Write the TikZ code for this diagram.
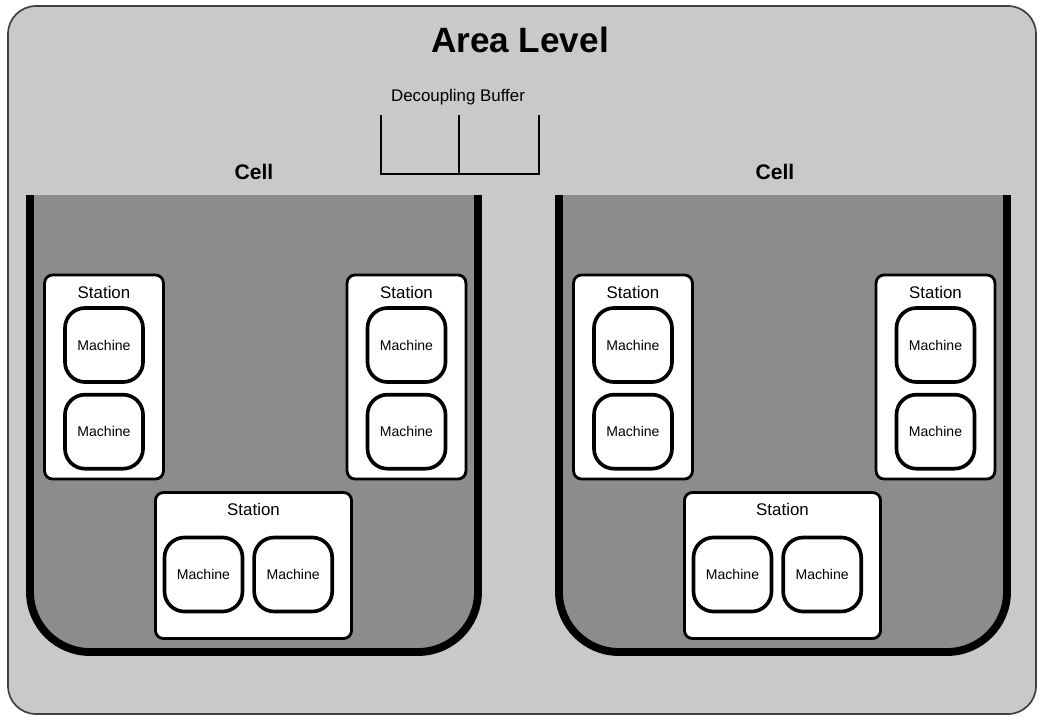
\documentclass[tikz,border=0pt]{standalone}
\usepackage{fontspec}
\setmainfont{Liberation Sans}
\usetikzlibrary{positioning}
\definecolor{areagray}{gray}{0.79}
\definecolor{cellgray}{gray}{0.55}

\begin{document}
\begin{tikzpicture}[x=0.025cm, y=-0.025cm, node distance=0.2cm,
    station/.style={draw, line width=2pt, fill=white, rounded corners=0.2cm},
    machine/.style={draw, line width=2.6pt, fill=white, rounded corners=0.5cm, minimum width=1.95cm, minimum height=1.85cm, font=\fontsize{10}{12}\selectfont},
    stlbl/.style={inner sep=0pt, font=\fontsize{12}{14}\selectfont},
    celllbl/.style={font=\fontsize{15}{18}\selectfont\bfseries}]
    \useasboundingbox (0,0) rectangle (1042,719);
    % area frame
    \draw[line width=1.2pt, draw=black!75, fill=areagray, rounded corners=0.7cm] (8,6) rectangle (1036,714);
    \node[font=\fontsize{25}{30}\selectfont\bfseries] (area) at (520,40) {Area Level};

    % decoupling buffer
    \node[font=\fontsize{12}{14}\selectfont] (buflbl) at (458,97) {Decoupling Buffer};
    \draw[line width=1.4pt] (381,115) -- (381,174) -- (539,174) -- (539,115);
    \draw[line width=1.4pt] (459,115) -- (459,174);

    % two cells, same layout
    \foreach \c/\dx/\lx in {L/0/254, R/529/246} {
    \begin{scope}[shift={(\dx,0)}]
        \fill[cellgray] (30,195) [rounded corners=1.5cm] -- (30,652) -- (478,652) [sharp corners] -- (478,195) -- cycle;
        \draw[line width=5.6pt] (30,195) [rounded corners=1.5cm] -- (30,652) -- (478,652) -- (478,195);
        \node[celllbl] (\c-cell) at (\lx,172) {Cell};

        % left station
        \node[station, minimum width=2.97cm, minimum height=5.1cm] (\c-st1) at (104,377) {};
        \node[stlbl, below=0.3cm of \c-st1.north] (\c-t1) {Station};
        \node[machine] (\c-m11) at (104,345) {Machine};
        \node[machine, below=0.225cm of \c-m11] (\c-m12) {Machine};

        % right station
        \node[station, minimum width=2.97cm, minimum height=5.1cm] (\c-st2) at (406.5,377) {};
        \node[stlbl, below=0.3cm of \c-st2.north] (\c-t2) {Station};
        \node[machine] (\c-m21) at (406.5,345) {Machine};
        \node[machine, below=0.225cm of \c-m21] (\c-m22) {Machine};

        % bottom station
        \node[station, minimum width=4.9cm, minimum height=3.65cm] (\c-st3) at (253.5,565.5) {};
        \node[stlbl, below=0.3cm of \c-st3.north] (\c-t3) {Station};
        \node[machine] (\c-m31) at (203.5,574.5) {Machine};
        \node[machine, right=0.2cm of \c-m31] (\c-m32) {Machine};
    \end{scope}
    }
\end{tikzpicture}
\end{document}
